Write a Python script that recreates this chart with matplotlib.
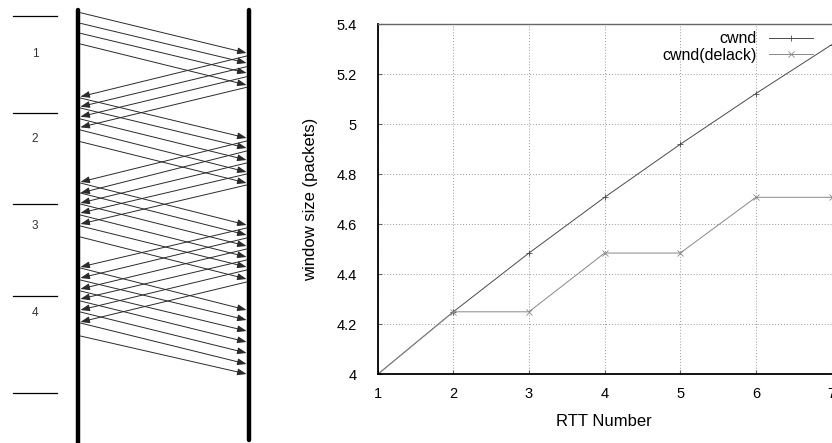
import matplotlib
matplotlib.use("Agg")
import matplotlib.pyplot as plt

plt.rcParams['font.family'] = ['Liberation Sans', 'DejaVu Sans']

# ---- right chart data
rtt = [1, 2, 3, 4, 5, 6, 7]
cwnd = [4.0, 4.25, 4.485, 4.708, 4.92, 5.123, 5.318]
cwnd_delack = [4.0, 4.25, 4.25, 4.485, 4.485, 4.708, 4.708]
yticks = [4, 4.2, 4.4, 4.6, 4.8, 5, 5.2, 5.4]
ytick_labels = ['4', '4.2', '4.4', '4.6', '4.8', '5', '5.2', '5.4']

# ---- left diagram data: times (top = 0) of each packet, per round
data_send = [[12.7, 23.3, 33.3, 44.0],
             [98, 108, 119, 130, 141.7],
             [183, 193, 204, 215, 226, 237],
             [268, 280, 291, 301, 312, 323, 336]]
data_arrive = [[53, 63, 73, 85],
               [138, 148, 160, 172, 183],
               [225, 235, 246, 257, 267, 279],
               [310, 320, 331, 342, 353, 364, 374]]
ack_send = [[56, 66.7, 76.7, 87.3],
            [141, 151, 163, 174, 185],
            [228, 238, 249, 260, 270, 282]]
ack_arrive = [[96.7, 106.7, 116.7, 127.3],
              [182, 193, 203, 213, 224],
              [267, 278, 289, 299, 310, 322]]
round_marks = [16, 113.3, 204, 296, 392.7]
round_labels = ['1', '2', '3', '4']
round_label_pos = [54, 139, 226, 313]

fig = plt.figure(figsize=(8.32, 4.43), dpi=100)

# ================= left: packet diagram
axl = fig.add_axes([0, 0, 290 / 832, 1])
axl.set_xlim(-78 / 171, 212 / 171)
axl.set_ylim(443, 0)
axl.axis('off')

axl.plot([0, 0], [10, 446], color='black', lw=3.2, solid_capstyle='round')
axl.plot([1, 1], [10, 440], color='black', lw=3.2, solid_capstyle='round')

aprops = dict(arrowstyle='-|>,head_length=0.55,head_width=0.2', color='#2a2a2a',
              lw=0.7, shrinkA=0, shrinkB=0)
edge = 0.014
for sends, arrives in zip(data_send, data_arrive):
    for s, a in zip(sends, arrives):
        axl.annotate('', xy=(1 - edge, a), xytext=(edge, s), arrowprops=aprops)
for sends, arrives in zip(ack_send, ack_arrive):
    for s, a in zip(sends, arrives):
        axl.annotate('', xy=(edge, a), xytext=(1 - edge, s), arrowprops=aprops)

for y in round_marks:
    axl.plot([-0.38, -0.123], [y, y], color='black', lw=0.9)
for lab, y in zip(round_labels, round_label_pos):
    axl.text(-0.251, y, lab, ha='center', va='center', fontsize=8.5, color='#333333')

# ================= right: window chart
ax = fig.add_axes([377.7 / 832, 68.7 / 443, 453.8 / 832, 350 / 443])
ax.plot(rtt, cwnd, color='#4a4a4a', lw=0.7, marker='+', ms=4, mew=0.6, label='cwnd')
ax.plot(rtt, cwnd_delack, color='#888888', lw=0.7, marker='x', ms=4, mew=0.6,
        label='cwnd(delack)')
ax.set_xlim(1, 7)
ax.set_ylim(4, 5.4)
ax.set_xticks(rtt)
ax.set_yticks(yticks)
ax.set_yticklabels(ytick_labels)
ax.grid(True, color='#999999', linestyle=(0, (1, 2)), lw=0.7)
ax.tick_params(direction='in', length=3, labelsize=10.5, color='#666666')
ax.tick_params(axis='y', pad=15)
ax.tick_params(axis='x', pad=9)
ax.spines['left'].set_linewidth(1.3)
ax.spines['bottom'].set_linewidth(1.3)
ax.spines['top'].set_color('#666666')
ax.spines['top'].set_linewidth(1.0)
ax.spines['right'].set_visible(False)
ax.set_xlabel('RTT Number', fontsize=12)
ax.set_ylabel('window size (packets)', fontsize=12)
ax.xaxis.set_label_coords((603.5 - 377.7) / 453.8, (374.3 - 413.5) / 350)
ax.yaxis.set_label_coords((318.5 - 377.7) / 453.8, 0.5)
ax.legend(loc='upper right', bbox_to_anchor=(827 / 832, (443 - 17) / 443),
          bbox_transform=fig.transFigure, frameon=False, markerfirst=False,
          fontsize=11.5, handlelength=2.75, labelspacing=0.1, handletextpad=0.77)

fig.savefig('out.png', dpi=100)
